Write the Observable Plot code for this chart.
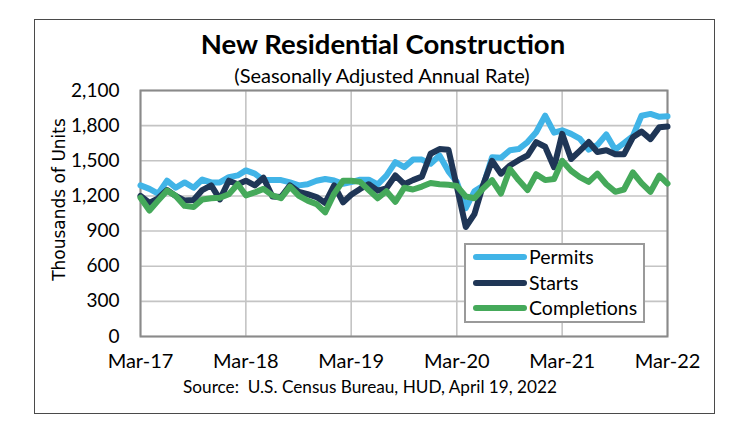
<!DOCTYPE html>
<html><head><meta charset="utf-8">
<script src="https://cdn.jsdelivr.net/npm/d3@7"></script>
<script src="https://cdn.jsdelivr.net/npm/@observablehq/plot@0.6"></script>
<style>
body{margin:0;background:#fff;}
#wrap{position:relative;width:750px;height:438px;font-family:Lato,sans-serif;color:#000;background:#fff;overflow:hidden;}
.abs{position:absolute;white-space:pre;}
#wrap svg{position:absolute;left:0;top:0;}
</style></head><body><div id="wrap"></div>
<script>
// Monthly, Mar-17 .. Mar-22 (SAAR, thousands of units)
const permits = [1290,1260,1220,1330,1270,1315,1270,1340,1315,1315,
  1360,1375,1418,1390,1335,1335,1335,1315,1290,1300,1330,1345,
  1332,1304,1318,1338,1338,1298,1374,1488,1446,1510,1510,1475,
  1545,1410,1320,1095,1240,1290,1530,1525,1590,1600,1660,1744,
  1885,1740,1760,1730,1690,1595,1635,1725,1595,1650,1710,1885,
  1900,1875,1880];
const starts = [1200,1140,1180,1250,1200,1160,1165,1250,1290,1170,
  1330,1300,1330,1290,1355,1195,1190,1290,1235,1215,1190,1140,
  1290,1145,1210,1260,1300,1245,1265,1375,1300,1335,1365,1560,
  1600,1595,1280,935,1045,1300,1500,1390,1460,1505,1545,1660,
  1620,1445,1730,1515,1585,1660,1575,1590,1555,1555,1700,1750,
  1685,1787,1793];
const completions = [1185,1075,1160,1245,1200,1115,1105,1170,1180,1185,
  1215,1300,1205,1230,1260,1205,1180,1280,1200,1160,1130,1060,
  1220,1330,1330,1320,1250,1180,1240,1150,1270,1255,1280,1310,
  1300,1295,1285,1195,1180,1265,1335,1220,1430,1335,1250,1385,
  1335,1345,1500,1415,1360,1320,1390,1300,1235,1255,1400,1310,
  1235,1374,1305];
const seriesNames = ["Permits","Starts","Completions"];
const seriesColors = ["#41b4e7","#1f3656","#45a95a"];
const xTickLabels = ["Mar-17","Mar-18","Mar-19","Mar-20","Mar-21","Mar-22"];
const yTicks = [0,300,600,900,1200,1500,1800,2100];

const parse = d3.utcParse("%b-%y");
const fmt = d3.utcFormat("%b-%y");
const months = d3.utcMonth.range(parse(xTickLabels[0]), d3.utcMonth.offset(parse(xTickLabels[xTickLabels.length-1]),1));
const xTicks = xTickLabels.map(parse);
const values = [permits, starts, completions];
const data = [];
seriesNames.forEach((s, k) => months.forEach((d, i) => data.push({date: d, series: s, value: values[k][i]})));

const chart = Plot.plot({
  width: 750, height: 438,
  marginLeft: 140, marginRight: 83, marginTop: 90, marginBottom: 102,
  style: {fontFamily: "Lato, sans-serif", fontSize: "19px", color: "#000", background: "transparent"},
  x: {type: "utc", domain: [months[0], months[months.length-1]], label: null},
  y: {domain: [0, 2100], label: null},
  color: {domain: seriesNames, range: seriesColors},
  marks: [
    Plot.gridY(yTicks, {stroke: "#c4c4c4", strokeOpacity: 1, strokeWidth: 1.6}),
    Plot.gridX(xTicks, {stroke: "#c4c4c4", strokeOpacity: 1, strokeWidth: 1.6}),
    Plot.frame({stroke: "#8a8a8a", strokeWidth: 2}),
    Plot.axisX(xTicks, {tickSize: 0, tickPadding: 17, tickFormat: fmt, label: null, fontSize: 20}),
    Plot.axisY(yTicks, {tickSize: 0, tickPadding: 21, tickFormat: d3.format(","), label: null, fontSize: 19}),
    Plot.line(data, {x: "date", y: "value", z: "series", stroke: "series", strokeWidth: 6, strokeLinejoin: "round", strokeLinecap: "round"})
  ]
});

const wrap = document.getElementById("wrap");
wrap.appendChild(chart);

function addText(txt, cx, cy, size, opts = {}) {
  const el = document.createElement("div");
  el.className = "abs";
  el.textContent = txt;
  el.style.fontSize = size + "px";
  el.style.lineHeight = size + "px";
  el.style.left = cx + "px";
  el.style.top = (cy - size / 2) + "px";
  el.style.transform = "translateX(-50%)" + (opts.rotate ? " rotate(-90deg)" : "");
  if (opts.weight) el.style.fontWeight = opts.weight;
  if (opts.family) el.style.fontFamily = opts.family;
  wrap.appendChild(el);
  return el;
}
addText("New Residential Construction", 383, 44, 27.5, {weight: 700});
addText("(Seasonally Adjusted Annual Rate)", 382, 75, 20);
addText("Source:  U.S. Census Bureau, HUD, April 19, 2022", 370, 387, 17.2);
addText("Thousands of Units", 59, 199, 17, {rotate: true, family: "'DejaVu Sans', sans-serif"});

// outer border
const border = document.createElement("div");
border.className = "abs";
Object.assign(border.style, {left: "34px", top: "19px", width: "681px", height: "395px", border: "1.5px solid #4a4a4a", boxSizing: "border-box"});
wrap.appendChild(border);

// legend
const leg = document.createElement("div");
leg.className = "abs";
Object.assign(leg.style, {left: "464px", top: "243px", width: "181px", height: "80px", border: "2px solid #9a9a9a", background: "#fff", boxSizing: "border-box"});
const rowY = [12, 38, 63];
seriesNames.forEach((s, k) => {
  const sw = document.createElement("div");
  sw.className = "abs";
  Object.assign(sw.style, {left: "7px", top: (rowY[k] - 3) + "px", width: "54px", height: "6px", borderRadius: "3px", background: seriesColors[k]});
  leg.appendChild(sw);
  const t = document.createElement("div");
  t.className = "abs";
  t.textContent = s;
  Object.assign(t.style, {left: "63px", top: (rowY[k] - 10) + "px", fontSize: "19.5px", lineHeight: "20px"});
  leg.appendChild(t);
});
wrap.appendChild(leg);
</script>
</body></html>
